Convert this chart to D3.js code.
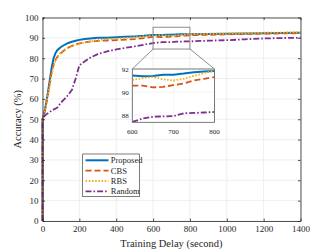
<!DOCTYPE html>
<html>
<head>
<meta charset="utf-8">
<title>Accuracy vs training delay</title>
<script src="https://d3js.org/d3.v7.min.js"></script>
<style>
  body { margin: 0; background: #fff; }
  text { font-family: "Liberation Serif", "Times New Roman", serif; fill: #262626; }
</style>
</head>
<body>
<script>
// data
var delay = [0, 0, 10, 20, 30, 40, 50, 60, 70, 80, 100, 120, 140, 160, 180, 200, 230, 260, 300, 350, 400, 450, 500, 550,
             600, 625, 650, 675, 700, 725, 750, 775, 800, 900, 1000, 1100, 1200, 1300, 1400];
var proposed = [0, 50, 53, 58, 63.5, 69.5, 75.5, 80, 82.4, 83.9, 85.5, 86.6, 87.5, 88.1, 88.6, 89, 89.4, 89.7, 90, 90.1, 90.3, 90.5, 90.7, 91,
                91.43, 91.38, 91.4, 91.5, 91.5, 91.6, 91.72, 91.78, 91.82, 91.9, 92.0, 92.1, 92.25, 92.4, 92.5];
var cbs = [0, 50, 53, 57.5, 62.5, 68, 73, 76.8, 79, 80.6, 82.5, 84, 85.2, 86.1, 86.8, 87.3, 87.8, 88.2, 88.5, 88.7, 88.9, 89.1, 89.4, 89.9,
           90.55, 90.55, 90.4, 90.45, 90.6, 90.75, 91.0, 91.15, 91.3, 91.5, 91.7, 91.9, 92.05, 92.2, 92.3];
var rbs = [0, 50, 53, 57, 62, 67, 72, 76, 78.6, 80.5, 83, 84.3, 85.2, 86, 86.6, 87.1, 87.7, 88.2, 88.9, 89.3, 89.6, 89.9, 90.3, 90.7,
           91.06, 91.2, 91.3, 91.1, 91.0, 91.15, 91.4, 91.65, 91.85, 92.0, 92.1, 92.3, 92.5, 92.6, 92.7];
var random = [0, 50, 51.5, 52.3, 53, 53.6, 54.3, 54.8, 55.2, 55.7, 58.2, 60, 62, 64.5, 70, 76.5, 78.5, 80.3, 82, 83.3, 84.3, 85.1, 85.8, 86.6,
              87.4, 87.7, 87.85, 87.88, 87.9, 88.15, 88.18, 88.22, 88.27, 88.6, 88.85, 89.3, 89.7, 89.9, 90.05];

var seriesNames = ["Proposed", "CBS", "RBS", "Random"];
var seriesValues = [proposed, cbs, rbs, random];

var xTicks = [0, 200, 400, 600, 800, 1000, 1200, 1400];
var yTicks = [0, 10, 20, 30, 40, 50, 60, 70, 80, 90, 100];
var zoomX = [600, 800];
var zoomY = [84.5, 95.2];
var insetXTicks = [600, 700, 800];
var insetYTicks = [88, 90, 92];
var insetYRange = [87.37, 92];

// styles
var colors = ["#0072BD", "#D95319", "#EDB120", "#7E2F8E"];
var dashes = [null, "6,3", "1.6,1.6", "6,2,1.6,2"];
var widths = [2, 1.8, 1.8, 1.8];

var W = 332, H = 249;
var svg = d3.select("body").append("svg").attr("width", W).attr("height", H);

var x = d3.scaleLinear().domain([0, 1400]).range([42.5, 300.5]);
var y = d3.scaleLinear().domain([0, 100]).range([221, 17.5]);

// grid
var grid = svg.append("g").attr("stroke", "#e3e3e3").attr("stroke-width", 0.6);
grid.selectAll(".gx").data(xTicks).enter().append("line")
  .attr("x1", d => x(d)).attr("x2", d => x(d)).attr("y1", y(0)).attr("y2", y(100));
grid.selectAll(".gy").data(yTicks).enter().append("line")
  .attr("x1", x(0)).attr("x2", x(1400)).attr("y1", d => y(d)).attr("y2", d => y(d));

function styleAxis(g, showText) {
  g.selectAll("path").attr("stroke", "#262626").attr("stroke-width", 0.8);
  g.selectAll("line").attr("stroke", "#262626").attr("stroke-width", 0.8);
  g.selectAll("text").attr("font-size", 9).attr("font-family", "Liberation Serif").attr("fill", "#262626");
  if (!showText) g.selectAll("text").remove();
}

// lines
var pts = function (vals) { return delay.map(function (t, i) { return [t, vals[i]]; }); };
var line = d3.line().x(d => x(d[0])).y(d => y(d[1]));
seriesValues.forEach(function (vals, k) {
  svg.append("path").attr("d", line(pts(vals)))
    .attr("fill", "none").attr("stroke", colors[k]).attr("stroke-width", widths[k])
    .attr("stroke-dasharray", dashes[k]);
});

// axes
svg.append("g").attr("transform", "translate(0," + y(0) + ")")
  .call(d3.axisBottom(x).tickValues(xTicks).tickSizeInner(-2.5).tickSizeOuter(0).tickPadding(5).tickFormat(d3.format("d")))
  .call(g => styleAxis(g, true));
svg.append("g").attr("transform", "translate(0," + y(100) + ")")
  .call(d3.axisTop(x).tickValues(xTicks).tickSizeInner(-2.5).tickSizeOuter(0))
  .call(g => styleAxis(g, false));
svg.append("g").attr("transform", "translate(" + x(0) + ",0)")
  .call(d3.axisLeft(y).tickValues(yTicks).tickSizeInner(-2.5).tickSizeOuter(0).tickPadding(4))
  .call(g => styleAxis(g, true));
svg.append("g").attr("transform", "translate(" + x(1400) + ",0)")
  .call(d3.axisRight(y).tickValues(yTicks).tickSizeInner(-2.5).tickSizeOuter(0))
  .call(g => styleAxis(g, false));

// axis titles
svg.append("text").attr("x", (x(0) + x(1400)) / 2).attr("y", 246.5)
  .attr("text-anchor", "middle").attr("font-size", 10.5).text("Training Delay (second)");
svg.append("text").attr("transform", "translate(21," + (y(0) + y(100)) / 2 + ") rotate(-90)")
  .attr("text-anchor", "middle").attr("font-size", 10.5).text("Accuracy (%)");

// zoom box in main plot
var ix = d3.scaleLinear().domain(zoomX).range([132.3, 214.5]);
var iy = d3.scaleLinear().domain(insetYRange).range([122.3, 69]);

svg.append("rect").attr("x", x(zoomX[0])).attr("y", y(zoomY[1]))
  .attr("width", x(zoomX[1]) - x(zoomX[0])).attr("height", y(zoomY[0]) - y(zoomY[1]))
  .attr("fill", "none").attr("stroke", "#8c8c8c").attr("stroke-width", 1);
svg.append("line").attr("x1", x(zoomX[0])).attr("y1", y(zoomY[0])).attr("x2", ix(zoomX[0])).attr("y2", iy(insetYRange[1]))
  .attr("stroke", "#404040").attr("stroke-width", 0.6);
svg.append("line").attr("x1", x(zoomX[1])).attr("y1", y(zoomY[0])).attr("x2", ix(zoomX[1])).attr("y2", iy(insetYRange[1]))
  .attr("stroke", "#404040").attr("stroke-width", 0.6);

// inset
var inset = svg.append("g");
inset.append("rect").attr("x", ix(zoomX[0])).attr("y", iy(insetYRange[1]))
  .attr("width", ix(zoomX[1]) - ix(zoomX[0])).attr("height", iy(insetYRange[0]) - iy(insetYRange[1]))
  .attr("fill", "#fff");
var ig = inset.append("g").attr("stroke", "#ececec").attr("stroke-width", 0.6);
ig.selectAll(".ix").data(insetXTicks).enter().append("line")
  .attr("x1", d => ix(d)).attr("x2", d => ix(d)).attr("y1", iy(insetYRange[0])).attr("y2", iy(insetYRange[1]));
ig.selectAll(".iy").data(insetYTicks).enter().append("line")
  .attr("x1", ix(zoomX[0])).attr("x2", ix(zoomX[1])).attr("y1", d => iy(d)).attr("y2", d => iy(d));

svg.append("clipPath").attr("id", "insetClip").append("rect")
  .attr("x", ix(zoomX[0])).attr("y", iy(insetYRange[1]))
  .attr("width", ix(zoomX[1]) - ix(zoomX[0])).attr("height", iy(insetYRange[0]) - iy(insetYRange[1]));
var iline = d3.line().x(d => ix(d[0])).y(d => iy(d[1]));
seriesValues.forEach(function (vals, k) {
  var p = pts(vals).filter(d => d[0] >= zoomX[0] && d[0] <= zoomX[1]);
  inset.append("path").attr("d", iline(p)).attr("clip-path", "url(#insetClip)")
    .attr("fill", "none").attr("stroke", colors[k]).attr("stroke-width", widths[k])
    .attr("stroke-dasharray", dashes[k]);
});
inset.append("rect").attr("x", ix(zoomX[0])).attr("y", iy(insetYRange[1]))
  .attr("width", ix(zoomX[1]) - ix(zoomX[0])).attr("height", iy(insetYRange[0]) - iy(insetYRange[1]))
  .attr("fill", "none").attr("stroke", "#5a5a5a").attr("stroke-width", 0.8);
inset.selectAll(".ixt").data(insetXTicks).enter().append("text")
  .attr("x", d => ix(d)).attr("y", iy(insetYRange[0]) + 11.5)
  .attr("text-anchor", "middle").attr("font-size", 7).text(d => d);
inset.selectAll(".iyt").data(insetYTicks).enter().append("text")
  .attr("x", ix(zoomX[0]) - 3.5).attr("y", d => iy(d) + 2.5)
  .attr("text-anchor", "end").attr("font-size", 7).text(d => d);

// legend
var leg = svg.append("g");
leg.append("rect").attr("x", 82.7).attr("y", 154).attr("width", 56.6).attr("height", 42.7)
  .attr("fill", "#fff").attr("stroke", "#262626").attr("stroke-width", 0.6);
seriesNames.forEach(function (name, k) {
  var yy = 160.3 + k * 10.35;
  leg.append("line").attr("x1", 85.5).attr("x2", 108.5).attr("y1", yy).attr("y2", yy)
    .attr("stroke", colors[k]).attr("stroke-width", widths[k]).attr("stroke-dasharray", dashes[k]);
  leg.append("text").attr("x", 110.8).attr("y", yy + 3).attr("font-size", 8.5).text(name);
});
</script>
</body>
</html>
